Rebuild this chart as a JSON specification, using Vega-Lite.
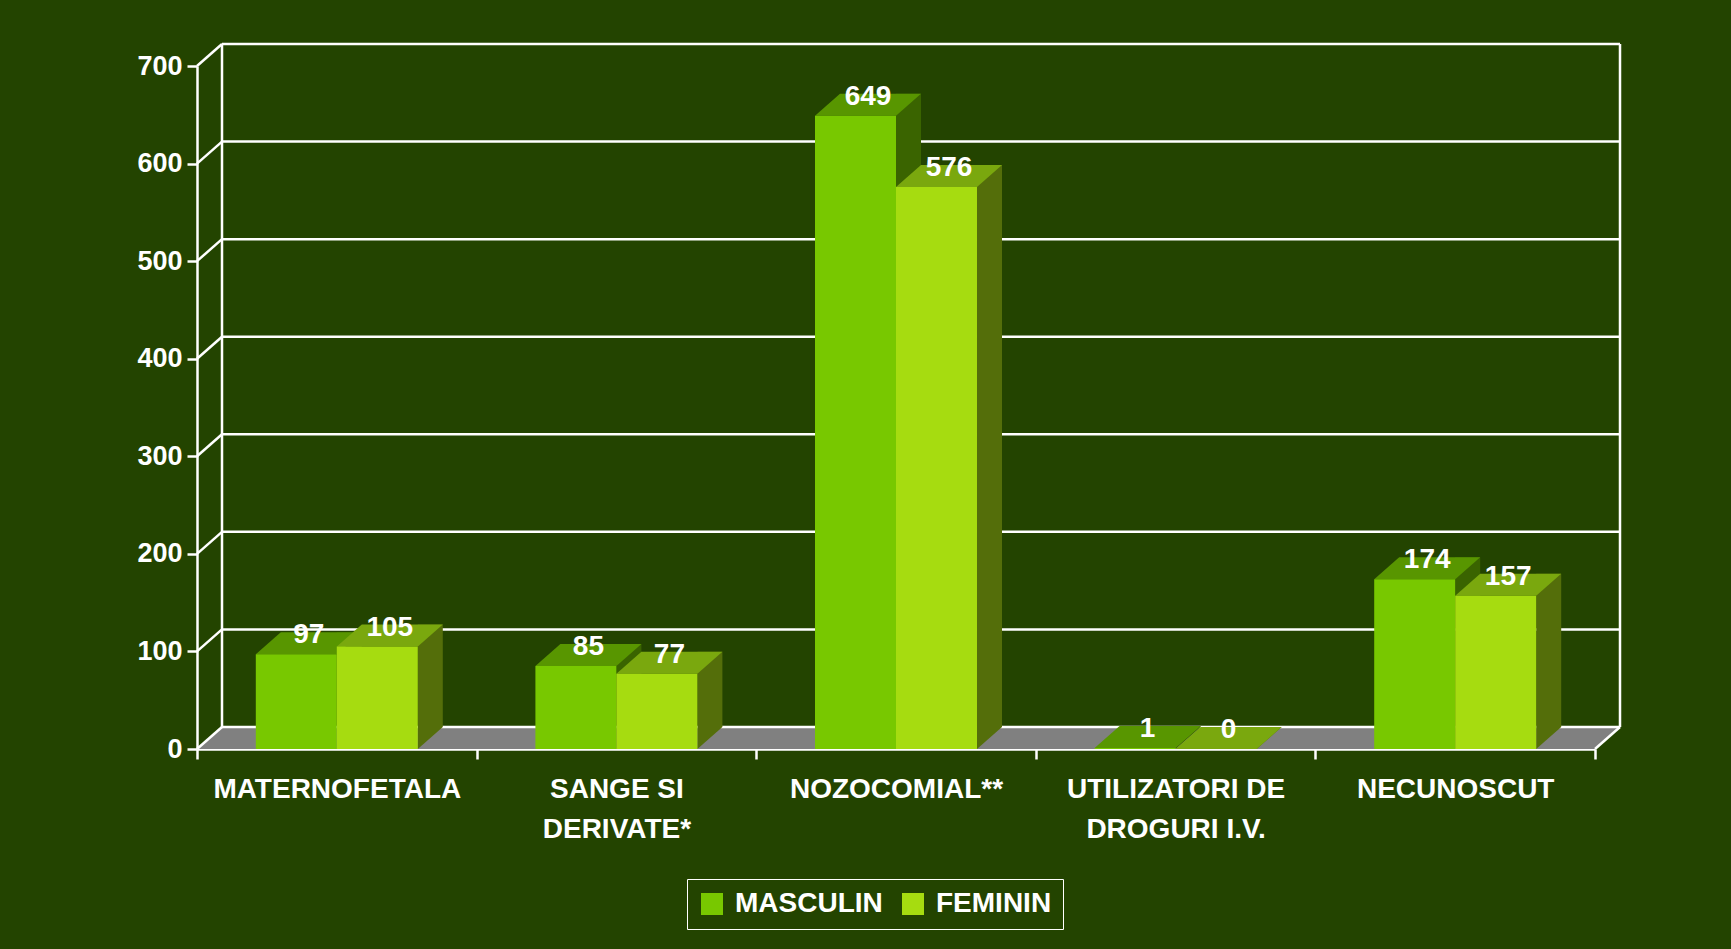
{
  "$schema": "https://vega.github.io/schema/vega-lite/v6.json",
  "width": 1398,
  "height": 683,
  "autosize": "none",
  "padding": {"left": 197, "top": 66, "right": 136, "bottom": 200},
  "background": "#234400",
  "config": {
    "view": {"stroke": null},
    "font": "Liberation Sans",
    "axisY": {"domainColor": "white", "domainWidth": 2.5, "tickColor": "white", "tickWidth": 2.5, "tickSize": 10, "labelColor": "white", "labelFont": "Liberation Sans", "labelFontSize": 27, "labelFontWeight": "bold", "labelPadding": 5, "grid": false},
    "axisX": {"domainColor": "white", "domainWidth": 2.5, "tickColor": "white", "tickWidth": 2.5, "tickSize": 10, "labelColor": "white", "labelFont": "Liberation Sans", "labelFontSize": 28, "labelFontWeight": "bold", "labelPadding": 16, "labelAngle": 0, "labelLineHeight": 40, "labelLimit": 0, "grid": false, "zindex": 1}
  },
  "datasets": {
    "cases": [
      {"cale": "MATERNOFETALA", "sex": "MASCULIN", "n": 97},
      {"cale": "MATERNOFETALA", "sex": "FEMININ", "n": 105},
      {"cale": "SANGE SI DERIVATE*", "sex": "MASCULIN", "n": 85},
      {"cale": "SANGE SI DERIVATE*", "sex": "FEMININ", "n": 77},
      {"cale": "NOZOCOMIAL**", "sex": "MASCULIN", "n": 649},
      {"cale": "NOZOCOMIAL**", "sex": "FEMININ", "n": 576},
      {"cale": "UTILIZATORI DE DROGURI I.V.", "sex": "MASCULIN", "n": 1},
      {"cale": "UTILIZATORI DE DROGURI I.V.", "sex": "FEMININ", "n": 0},
      {"cale": "NECUNOSCUT", "sex": "MASCULIN", "n": 174},
      {"cale": "NECUNOSCUT", "sex": "FEMININ", "n": 157}
    ],
    "ticks": [{"t": 0}, {"t": 100}, {"t": 200}, {"t": 300}, {"t": 400}, {"t": 500}, {"t": 600}, {"t": 700}]
  },
  "layer": [
    {
      "layer": [
        {
          "data": {"values": [{}]},
          "mark": {"type": "point", "shape": "M-0.99857,0L0.99857,0L1.03429,-0.03143L-0.96286,-0.03143Z", "size": 1960000, "filled": true, "fill": "#808080", "strokeWidth": 0, "opacity": 1},
          "encoding": {
            "x": {"datum": 0.5, "type": "quantitative", "scale": {"domain": [0, 1], "nice": false, "zero": false}, "axis": null},
            "y": {"datum": 0, "type": "quantitative", "scale": {"domain": [0, 700], "nice": false}, "axis": {"title": null, "values": [0, 100, 200, 300, 400, 500, 600, 700]}}
          }
        },
        {
          "data": {"name": "ticks"},
          "mark": {"type": "rule", "color": "white", "strokeWidth": 2.5, "xOffset": 25, "x2Offset": 25, "yOffset": -22},
          "encoding": {
            "x": {"datum": 0, "type": "quantitative", "scale": {"domain": [0, 1], "nice": false, "zero": false}, "axis": null},
            "x2": {"datum": 1},
            "y": {"field": "t", "type": "quantitative", "scale": {"domain": [0, 700], "nice": false}, "axis": {"title": null, "values": [0, 100, 200, 300, 400, 500, 600, 700]}}
          }
        },
        {
          "data": {"name": "ticks"},
          "mark": {"type": "rule", "color": "white", "strokeWidth": 2.5, "x2Offset": 25, "y2Offset": -22},
          "encoding": {
            "x": {"datum": 0, "type": "quantitative", "scale": {"domain": [0, 1], "nice": false, "zero": false}, "axis": null},
            "x2": {"datum": 0},
            "y": {"field": "t", "type": "quantitative", "scale": {"domain": [0, 700], "nice": false}, "axis": {"title": null, "values": [0, 100, 200, 300, 400, 500, 600, 700]}},
            "y2": {"field": "t"}
          }
        },
        {
          "data": {"values": [{}]},
          "mark": {"type": "rule", "color": "white", "strokeWidth": 2.5, "xOffset": 25, "yOffset": -22, "y2Offset": -22},
          "encoding": {
            "x": {"datum": 0, "type": "quantitative", "scale": {"domain": [0, 1], "nice": false, "zero": false}, "axis": null},
            "y": {"datum": 0, "type": "quantitative", "scale": {"domain": [0, 700], "nice": false}, "axis": {"title": null, "values": [0, 100, 200, 300, 400, 500, 600, 700]}},
            "y2": {"datum": 700}
          }
        },
        {
          "data": {"values": [{}]},
          "mark": {"type": "rule", "color": "white", "strokeWidth": 2.5, "xOffset": 25, "yOffset": -22, "y2Offset": -22},
          "encoding": {
            "x": {"datum": 1, "type": "quantitative", "scale": {"domain": [0, 1], "nice": false, "zero": false}, "axis": null},
            "y": {"datum": 0, "type": "quantitative", "scale": {"domain": [0, 700], "nice": false}, "axis": {"title": null, "values": [0, 100, 200, 300, 400, 500, 600, 700]}},
            "y2": {"datum": 700}
          }
        },
        {
          "data": {"values": [{}]},
          "mark": {"type": "rule", "color": "white", "strokeWidth": 2.5, "x2Offset": 25, "y2Offset": -22},
          "encoding": {
            "x": {"datum": 1, "type": "quantitative", "scale": {"domain": [0, 1], "nice": false, "zero": false}, "axis": null},
            "x2": {"datum": 1},
            "y": {"datum": 0, "type": "quantitative", "scale": {"domain": [0, 700], "nice": false}, "axis": {"title": null, "values": [0, 100, 200, 300, 400, 500, 600, 700]}},
            "y2": {"datum": 0}
          }
        }
      ]
    },
    {
      "data": {"name": "cases"},
      "encoding": {
        "x": {"field": "cale", "type": "nominal", "sort": null, "scale": {"paddingInner": 0, "paddingOuter": 0},
          "axis": {"title": null, "tickBand": "extent", "labelExpr": "datum.value == 'SANGE SI DERIVATE*' ? ['SANGE SI', 'DERIVATE*'] : datum.value == 'UTILIZATORI DE DROGURI I.V.' ? ['UTILIZATORI DE', 'DROGURI I.V.'] : datum.label"}}
      },
      "layer": [
        {
          "layer": [
            {
              "transform": [{"filter": "datum.sex == 'MASCULIN'"}],
              "mark": {"type": "bar", "width": 25, "xOffset": 12.5, "yOffset": -22, "color": "#3a6400"},
              "encoding": {"y": {"field": "n", "type": "quantitative", "scale": {"domain": [0, 700], "nice": false}, "axis": {"title": null, "values": [0, 100, 200, 300, 400, 500, 600, 700]}}}
            },
            {
              "transform": [{"filter": "datum.sex == 'MASCULIN'"}],
              "mark": {"type": "point", "shape": "M0.675,0L0.675,-0.3667L1.0917,-0.3667Z", "size": 14400, "filled": true, "fill": "#3a6400", "strokeWidth": 0, "opacity": 1},
              "encoding": {
                "xOffset": {"field": "sex", "type": "nominal", "scale": {"domain": ["MASCULIN", "FEMININ"], "paddingInner": 0, "paddingOuter": 0.726}},
                "y": {"datum": 0, "type": "quantitative", "scale": {"domain": [0, 700], "nice": false}, "axis": {"title": null, "values": [0, 100, 200, 300, 400, 500, 600, 700]}}
              }
            },
            {
              "transform": [{"filter": "datum.sex == 'MASCULIN'"}],
              "mark": {"type": "point", "shape": "M-0.675,0L0.675,0L1.0917,-0.3667L-0.2583,-0.3667Z", "size": 14400, "filled": true, "fill": "#589600", "strokeWidth": 0, "opacity": 1},
              "encoding": {
                "xOffset": {"field": "sex", "type": "nominal", "scale": {"domain": ["MASCULIN", "FEMININ"], "paddingInner": 0, "paddingOuter": 0.726}},
                "y": {"field": "n", "type": "quantitative", "scale": {"domain": [0, 700], "nice": false}, "axis": {"title": null, "values": [0, 100, 200, 300, 400, 500, 600, 700]}}
              }
            },
            {
              "transform": [{"filter": "datum.sex == 'FEMININ'"}],
              "mark": {"type": "bar", "width": 25, "xOffset": 93.5, "yOffset": -22, "color": "#546e0a"},
              "encoding": {"y": {"field": "n", "type": "quantitative", "scale": {"domain": [0, 700], "nice": false}, "axis": {"title": null, "values": [0, 100, 200, 300, 400, 500, 600, 700]}}}
            },
            {
              "transform": [{"filter": "datum.sex == 'FEMININ'"}],
              "mark": {"type": "point", "shape": "M0.675,0L0.675,-0.3667L1.0917,-0.3667Z", "size": 14400, "filled": true, "fill": "#546e0a", "strokeWidth": 0, "opacity": 1},
              "encoding": {
                "xOffset": {"field": "sex", "type": "nominal", "scale": {"domain": ["MASCULIN", "FEMININ"], "paddingInner": 0, "paddingOuter": 0.726}},
                "y": {"datum": 0, "type": "quantitative", "scale": {"domain": [0, 700], "nice": false}, "axis": {"title": null, "values": [0, 100, 200, 300, 400, 500, 600, 700]}}
              }
            },
            {
              "transform": [{"filter": "datum.sex == 'FEMININ'"}],
              "mark": {"type": "point", "shape": "M-0.675,0L0.675,0L1.0917,-0.3667L-0.2583,-0.3667Z", "size": 14400, "filled": true, "fill": "#7aa80e", "strokeWidth": 0, "opacity": 1},
              "encoding": {
                "xOffset": {"field": "sex", "type": "nominal", "scale": {"domain": ["MASCULIN", "FEMININ"], "paddingInner": 0, "paddingOuter": 0.726}},
                "y": {"field": "n", "type": "quantitative", "scale": {"domain": [0, 700], "nice": false}, "axis": {"title": null, "values": [0, 100, 200, 300, 400, 500, 600, 700]}}
              }
            }
          ]
        },
        {
          "encoding": {
            "xOffset": {"field": "sex", "type": "nominal", "scale": {"domain": ["MASCULIN", "FEMININ"], "paddingInner": 0, "paddingOuter": 0.726}},
            "y": {"field": "n", "type": "quantitative", "scale": {"domain": [0, 700], "nice": false}, "axis": {"title": null, "values": [0, 100, 200, 300, 400, 500, 600, 700]}}
          },
          "layer": [
            {
              "mark": {"type": "bar"},
              "encoding": {
                "color": {
                  "field": "sex", "type": "nominal",
                  "scale": {"domain": ["MASCULIN", "FEMININ"], "range": ["#78c800", "#a6dc10"]},
                  "legend": {"title": null, "orient": "none", "legendX": 490, "legendY": 813, "direction": "horizontal", "symbolType": "square", "symbolSize": 484, "symbolStrokeWidth": 0, "labelFont": "Liberation Sans", "labelFontSize": 28, "labelFontWeight": "bold", "labelColor": "white", "strokeColor": "white", "padding": 11, "columnPadding": 16, "labelOffset": 9}
                }
              }
            },
            {
              "mark": {"type": "text", "color": "white", "font": "Liberation Sans", "fontSize": 28, "fontWeight": "bold", "dx": 12.5, "dy": -11, "baseline": "alphabetic", "align": "center"},
              "encoding": {"text": {"field": "n", "type": "quantitative"}}
            }
          ]
        }
      ]
    }
  ],
  "resolve": {"scale": {"x": "independent"}, "axis": {"x": "independent"}}
}
